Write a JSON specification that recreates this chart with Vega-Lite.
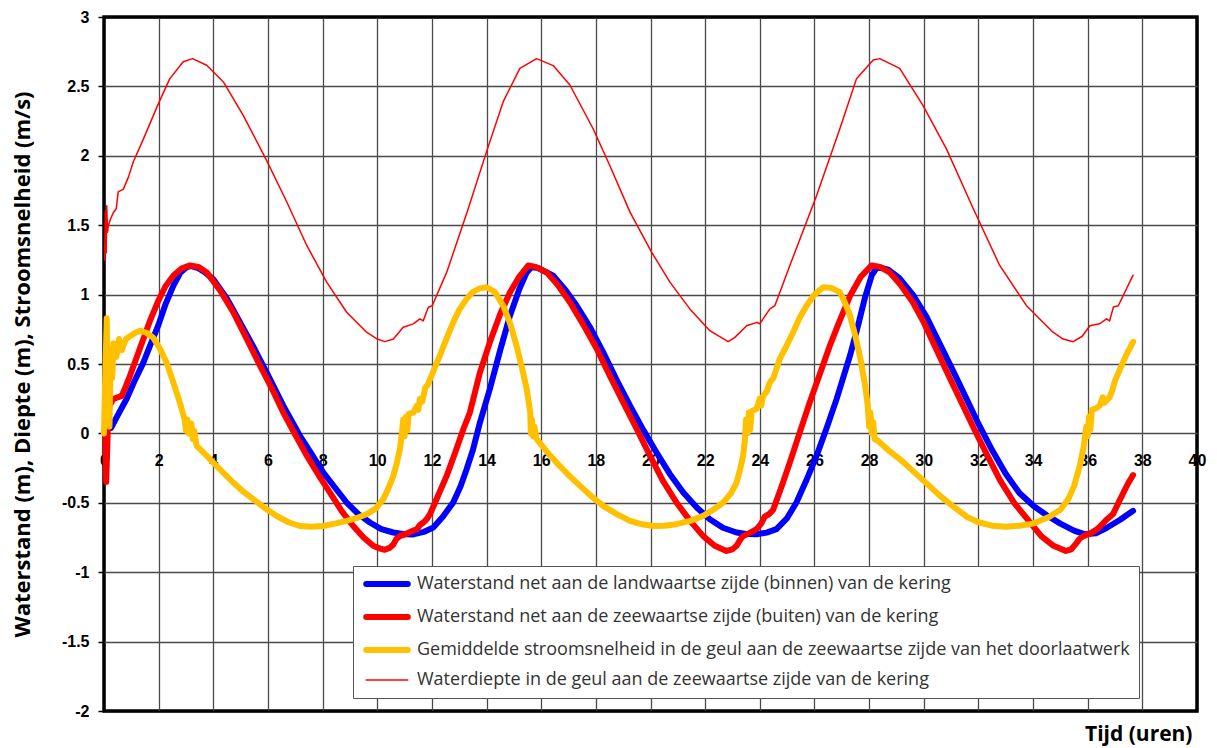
{
  "$schema": "https://vega.github.io/schema/vega-lite/v6.json",
  "width": 1093,
  "height": 694,
  "autosize": {"type": "none"},
  "padding": {"left": 104, "top": 17, "right": 20, "bottom": 37},
  "background": "white",
  "config": {
    "view": {"stroke": "black", "strokeWidth": 3.5}
  },
  "datasets": {
    "binnen": [
      {"t":0.26,"v":0.04},{"t":0.5,"v":0.13},{"t":0.83,"v":0.25},{"t":1.1,"v":0.37},{"t":1.44,"v":0.51},{"t":1.7,"v":0.64},{"t":1.99,"v":0.78},{"t":2.25,"v":0.93},{"t":2.54,"v":1.065},{"t":2.8,"v":1.16},{"t":3.03,"v":1.198},{"t":3.2,"v":1.205},{"t":3.45,"v":1.19},{"t":3.7,"v":1.16},{"t":4.0,"v":1.11},{"t":4.5,"v":0.97},{"t":4.98,"v":0.8},{"t":5.45,"v":0.63},{"t":5.95,"v":0.44},{"t":6.56,"v":0.2},{"t":7.17,"v":-0.017},{"t":7.6,"v":-0.15},{"t":8.02,"v":-0.28},{"t":8.45,"v":-0.39},{"t":8.88,"v":-0.498},{"t":9.3,"v":-0.58},{"t":9.73,"v":-0.642},{"t":10.15,"v":-0.69},{"t":10.59,"v":-0.714},{"t":11.0,"v":-0.727},{"t":11.32,"v":-0.728},{"t":11.7,"v":-0.71},{"t":12.05,"v":-0.678},{"t":12.4,"v":-0.6},{"t":12.78,"v":-0.498},{"t":13.05,"v":-0.38},{"t":13.27,"v":-0.258},{"t":13.5,"v":-0.12},{"t":13.76,"v":0.08},{"t":14.12,"v":0.32},{"t":14.5,"v":0.6},{"t":14.86,"v":0.85},{"t":15.2,"v":1.04},{"t":15.47,"v":1.16},{"t":15.65,"v":1.2},{"t":15.9,"v":1.19},{"t":16.44,"v":1.137},{"t":16.9,"v":1.03},{"t":17.3,"v":0.92},{"t":17.8,"v":0.76},{"t":18.27,"v":0.584},{"t":18.75,"v":0.39},{"t":19.25,"v":0.2},{"t":19.75,"v":0.02},{"t":20.22,"v":-0.137},{"t":20.7,"v":-0.29},{"t":21.2,"v":-0.426},{"t":21.7,"v":-0.535},{"t":22.17,"v":-0.618},{"t":22.65,"v":-0.68},{"t":23.15,"v":-0.714},{"t":23.5,"v":-0.725},{"t":23.88,"v":-0.727},{"t":24.25,"v":-0.715},{"t":24.61,"v":-0.69},{"t":25.0,"v":-0.61},{"t":25.34,"v":-0.498},{"t":25.7,"v":-0.34},{"t":26.08,"v":-0.16},{"t":26.45,"v":0.04},{"t":26.81,"v":0.247},{"t":27.05,"v":0.4},{"t":27.3,"v":0.56},{"t":27.6,"v":0.78},{"t":27.85,"v":0.98},{"t":28.1,"v":1.14},{"t":28.3,"v":1.2},{"t":28.7,"v":1.18},{"t":29.1,"v":1.12},{"t":29.6,"v":1.0},{"t":30.1,"v":0.84},{"t":30.6,"v":0.64},{"t":31.1,"v":0.44},{"t":31.57,"v":0.247},{"t":32.0,"v":0.07},{"t":32.5,"v":-0.12},{"t":33.0,"v":-0.29},{"t":33.5,"v":-0.43},{"t":34.0,"v":-0.52},{"t":34.5,"v":-0.59},{"t":35.0,"v":-0.65},{"t":35.5,"v":-0.7},{"t":35.9,"v":-0.727},{"t":36.3,"v":-0.72},{"t":36.7,"v":-0.68},{"t":37.2,"v":-0.62},{"t":37.66,"v":-0.558}
    ],
    "buiten": [
      {"t":0.05,"v":0.0},{"t":0.08,"v":-0.35},{"t":0.12,"v":-0.1},{"t":0.15,"v":0.1},{"t":0.2,"v":0.2},{"t":0.34,"v":0.247},{"t":0.5,"v":0.26},{"t":0.65,"v":0.27},{"t":0.8,"v":0.34},{"t":0.95,"v":0.415},{"t":1.2,"v":0.55},{"t":1.44,"v":0.68},{"t":1.7,"v":0.82},{"t":1.99,"v":0.957},{"t":2.25,"v":1.06},{"t":2.54,"v":1.137},{"t":2.85,"v":1.19},{"t":3.15,"v":1.21},{"t":3.45,"v":1.2},{"t":3.76,"v":1.16},{"t":4.25,"v":1.03},{"t":4.73,"v":0.873},{"t":5.2,"v":0.69},{"t":5.71,"v":0.488},{"t":6.15,"v":0.32},{"t":6.56,"v":0.15},{"t":7.0,"v":-0.01},{"t":7.42,"v":-0.16},{"t":7.85,"v":-0.3},{"t":8.27,"v":-0.426},{"t":8.7,"v":-0.56},{"t":9.12,"v":-0.667},{"t":9.5,"v":-0.75},{"t":9.85,"v":-0.81},{"t":10.1,"v":-0.83},{"t":10.28,"v":-0.838},{"t":10.45,"v":-0.825},{"t":10.59,"v":-0.8},{"t":10.7,"v":-0.76},{"t":10.83,"v":-0.74},{"t":11.1,"v":-0.72},{"t":11.32,"v":-0.7},{"t":11.45,"v":-0.69},{"t":11.56,"v":-0.66},{"t":11.7,"v":-0.64},{"t":11.8,"v":-0.62},{"t":11.93,"v":-0.582},{"t":12.2,"v":-0.46},{"t":12.54,"v":-0.306},{"t":12.85,"v":-0.14},{"t":13.15,"v":0.03},{"t":13.39,"v":0.15},{"t":13.76,"v":0.44},{"t":14.12,"v":0.657},{"t":14.5,"v":0.86},{"t":14.86,"v":1.017},{"t":15.2,"v":1.13},{"t":15.53,"v":1.21},{"t":15.8,"v":1.2},{"t":16.2,"v":1.16},{"t":16.6,"v":1.07},{"t":17.05,"v":0.945},{"t":17.55,"v":0.78},{"t":18.03,"v":0.61},{"t":18.5,"v":0.42},{"t":19.0,"v":0.224},{"t":19.5,"v":0.03},{"t":19.98,"v":-0.16},{"t":20.45,"v":-0.34},{"t":20.95,"v":-0.498},{"t":21.45,"v":-0.63},{"t":21.93,"v":-0.74},{"t":22.35,"v":-0.81},{"t":22.78,"v":-0.847},{"t":23.0,"v":-0.835},{"t":23.15,"v":-0.81},{"t":23.3,"v":-0.76},{"t":23.39,"v":-0.74},{"t":23.6,"v":-0.72},{"t":23.88,"v":-0.69},{"t":24.05,"v":-0.65},{"t":24.18,"v":-0.6},{"t":24.35,"v":-0.58},{"t":24.49,"v":-0.55},{"t":24.8,"v":-0.38},{"t":25.1,"v":-0.21},{"t":25.45,"v":0.0},{"t":25.83,"v":0.224},{"t":26.2,"v":0.43},{"t":26.56,"v":0.63},{"t":26.9,"v":0.8},{"t":27.3,"v":0.99},{"t":27.7,"v":1.13},{"t":28.09,"v":1.21},{"t":28.4,"v":1.2},{"t":28.75,"v":1.16},{"t":29.15,"v":1.07},{"t":29.6,"v":0.945},{"t":30.0,"v":0.8},{"t":30.45,"v":0.61},{"t":30.9,"v":0.42},{"t":31.35,"v":0.235},{"t":31.85,"v":0.03},{"t":32.33,"v":-0.16},{"t":32.8,"v":-0.34},{"t":33.3,"v":-0.498},{"t":33.8,"v":-0.62},{"t":34.3,"v":-0.74},{"t":34.75,"v":-0.81},{"t":35.2,"v":-0.847},{"t":35.4,"v":-0.835},{"t":35.55,"v":-0.8},{"t":35.7,"v":-0.76},{"t":35.85,"v":-0.74},{"t":36.1,"v":-0.72},{"t":36.35,"v":-0.69},{"t":36.5,"v":-0.66},{"t":36.7,"v":-0.62},{"t":36.93,"v":-0.58},{"t":37.2,"v":-0.47},{"t":37.45,"v":-0.37},{"t":37.66,"v":-0.3}
    ],
    "snelheid": [
      {"t":0.0,"v":0.0},{"t":0.05,"v":0.45},{"t":0.1,"v":0.83},{"t":0.15,"v":0.3},{"t":0.2,"v":0.05},{"t":0.25,"v":0.6},{"t":0.3,"v":0.4},{"t":0.35,"v":0.65},{"t":0.45,"v":0.55},{"t":0.55,"v":0.68},{"t":0.65,"v":0.6},{"t":0.8,"v":0.68},{"t":0.95,"v":0.7},{"t":1.1,"v":0.72},{"t":1.32,"v":0.74},{"t":1.55,"v":0.725},{"t":1.8,"v":0.69},{"t":2.05,"v":0.61},{"t":2.29,"v":0.51},{"t":2.55,"v":0.36},{"t":2.78,"v":0.22},{"t":2.95,"v":0.1},{"t":3.0,"v":0.02},{"t":3.05,"v":0.1},{"t":3.1,"v":0.0},{"t":3.2,"v":0.07},{"t":3.25,"v":-0.04},{"t":3.3,"v":0.02},{"t":3.39,"v":-0.09},{"t":3.7,"v":-0.15},{"t":4.0,"v":-0.21},{"t":4.35,"v":-0.28},{"t":4.73,"v":-0.354},{"t":5.1,"v":-0.42},{"t":5.46,"v":-0.474},{"t":5.9,"v":-0.54},{"t":6.32,"v":-0.595},{"t":6.75,"v":-0.64},{"t":7.17,"v":-0.667},{"t":7.6,"v":-0.672},{"t":8.02,"v":-0.667},{"t":8.45,"v":-0.65},{"t":8.88,"v":-0.63},{"t":9.25,"v":-0.61},{"t":9.61,"v":-0.582},{"t":9.95,"v":-0.54},{"t":10.22,"v":-0.474},{"t":10.4,"v":-0.4},{"t":10.59,"v":-0.306},{"t":10.72,"v":-0.21},{"t":10.83,"v":-0.113},{"t":10.9,"v":0.0},{"t":10.95,"v":0.1},{"t":11.0,"v":-0.02},{"t":11.05,"v":0.12},{"t":11.1,"v":0.02},{"t":11.15,"v":0.14},{"t":11.32,"v":0.15},{"t":11.45,"v":0.2},{"t":11.5,"v":0.17},{"t":11.56,"v":0.25},{"t":11.65,"v":0.23},{"t":11.76,"v":0.33},{"t":11.85,"v":0.35},{"t":11.93,"v":0.39},{"t":12.1,"v":0.47},{"t":12.29,"v":0.56},{"t":12.55,"v":0.69},{"t":12.78,"v":0.8},{"t":13.0,"v":0.89},{"t":13.27,"v":0.969},{"t":13.5,"v":1.02},{"t":13.76,"v":1.045},{"t":14.0,"v":1.053},{"t":14.3,"v":1.02},{"t":14.61,"v":0.92},{"t":14.85,"v":0.8},{"t":15.1,"v":0.63},{"t":15.3,"v":0.47},{"t":15.47,"v":0.32},{"t":15.6,"v":0.15},{"t":15.62,"v":0.0},{"t":15.66,"v":0.1},{"t":15.7,"v":-0.02},{"t":15.75,"v":0.05},{"t":15.83,"v":-0.04},{"t":16.2,"v":-0.13},{"t":16.56,"v":-0.21},{"t":17.0,"v":-0.3},{"t":17.42,"v":-0.378},{"t":17.85,"v":-0.455},{"t":18.27,"v":-0.522},{"t":18.75,"v":-0.58},{"t":19.25,"v":-0.63},{"t":19.7,"v":-0.655},{"t":20.1,"v":-0.667},{"t":20.5,"v":-0.665},{"t":20.95,"v":-0.654},{"t":21.45,"v":-0.63},{"t":21.93,"v":-0.594},{"t":22.3,"v":-0.55},{"t":22.66,"v":-0.498},{"t":22.95,"v":-0.43},{"t":23.15,"v":-0.354},{"t":23.28,"v":-0.26},{"t":23.39,"v":-0.16},{"t":23.45,"v":-0.05},{"t":23.5,"v":0.1},{"t":23.55,"v":0.0},{"t":23.6,"v":0.15},{"t":23.65,"v":0.03},{"t":23.7,"v":0.16},{"t":23.88,"v":0.175},{"t":24.0,"v":0.25},{"t":24.05,"v":0.2},{"t":24.12,"v":0.27},{"t":24.25,"v":0.3},{"t":24.37,"v":0.368},{"t":24.5,"v":0.4},{"t":24.73,"v":0.536},{"t":25.0,"v":0.64},{"t":25.22,"v":0.729},{"t":25.45,"v":0.83},{"t":25.71,"v":0.92},{"t":26.0,"v":1.0},{"t":26.32,"v":1.053},{"t":26.6,"v":1.05},{"t":26.93,"v":1.017},{"t":27.1,"v":0.95},{"t":27.3,"v":0.85},{"t":27.5,"v":0.7},{"t":27.7,"v":0.52},{"t":27.85,"v":0.35},{"t":27.95,"v":0.2},{"t":28.0,"v":0.05},{"t":28.05,"v":0.15},{"t":28.1,"v":0.0},{"t":28.15,"v":0.08},{"t":28.2,"v":-0.04},{"t":28.3,"v":-0.05},{"t":28.7,"v":-0.12},{"t":29.12,"v":-0.185},{"t":29.6,"v":-0.27},{"t":30.1,"v":-0.36},{"t":30.6,"v":-0.45},{"t":31.1,"v":-0.53},{"t":31.57,"v":-0.6},{"t":32.0,"v":-0.64},{"t":32.5,"v":-0.665},{"t":33.0,"v":-0.672},{"t":33.5,"v":-0.665},{"t":34.0,"v":-0.65},{"t":34.25,"v":-0.63},{"t":34.6,"v":-0.6},{"t":35.0,"v":-0.55},{"t":35.3,"v":-0.47},{"t":35.5,"v":-0.38},{"t":35.71,"v":-0.234},{"t":35.85,"v":-0.1},{"t":35.95,"v":0.05},{"t":36.0,"v":-0.02},{"t":36.05,"v":0.12},{"t":36.1,"v":0.03},{"t":36.15,"v":0.17},{"t":36.3,"v":0.18},{"t":36.44,"v":0.2},{"t":36.55,"v":0.26},{"t":36.6,"v":0.22},{"t":36.8,"v":0.26},{"t":36.9,"v":0.31},{"t":37.0,"v":0.38},{"t":37.2,"v":0.47},{"t":37.4,"v":0.56},{"t":37.66,"v":0.66}
    ],
    "diepte": [
      {"t":0.02,"v":1.25},{"t":0.05,"v":1.6},{"t":0.08,"v":1.3},{"t":0.1,"v":1.64},{"t":0.13,"v":1.45},{"t":0.16,"v":1.5},{"t":0.25,"v":1.55},{"t":0.34,"v":1.59},{"t":0.45,"v":1.62},{"t":0.52,"v":1.74},{"t":0.71,"v":1.76},{"t":0.9,"v":1.85},{"t":1.07,"v":1.955},{"t":1.44,"v":2.12},{"t":1.99,"v":2.376},{"t":2.41,"v":2.556},{"t":2.9,"v":2.677},{"t":3.24,"v":2.7},{"t":3.76,"v":2.652},{"t":4.37,"v":2.532},{"t":5.1,"v":2.29},{"t":5.95,"v":1.967},{"t":6.69,"v":1.667},{"t":7.42,"v":1.354},{"t":8.15,"v":1.09},{"t":8.88,"v":0.873},{"t":9.61,"v":0.729},{"t":10.0,"v":0.68},{"t":10.28,"v":0.661},{"t":10.59,"v":0.68},{"t":10.95,"v":0.765},{"t":11.32,"v":0.789},{"t":11.56,"v":0.825},{"t":11.68,"v":0.81},{"t":11.87,"v":0.909},{"t":12.01,"v":0.92},{"t":12.54,"v":1.16},{"t":13.3,"v":1.6},{"t":14.0,"v":2.03},{"t":14.61,"v":2.39},{"t":15.22,"v":2.63},{"t":15.83,"v":2.7},{"t":16.44,"v":2.65},{"t":17.05,"v":2.51},{"t":17.9,"v":2.195},{"t":18.51,"v":1.93},{"t":19.25,"v":1.594},{"t":20.04,"v":1.306},{"t":20.71,"v":1.09},{"t":21.44,"v":0.897},{"t":22.17,"v":0.74},{"t":22.84,"v":0.661},{"t":23.08,"v":0.69},{"t":23.52,"v":0.776},{"t":23.89,"v":0.8},{"t":24.0,"v":0.79},{"t":24.12,"v":0.825},{"t":24.37,"v":0.897},{"t":24.55,"v":0.92},{"t":25.1,"v":1.21},{"t":26.08,"v":1.714},{"t":26.93,"v":2.195},{"t":27.54,"v":2.556},{"t":28.15,"v":2.69},{"t":28.39,"v":2.7},{"t":29.12,"v":2.63},{"t":29.98,"v":2.36},{"t":30.83,"v":2.05},{"t":31.81,"v":1.62},{"t":32.78,"v":1.21},{"t":33.76,"v":0.92},{"t":34.73,"v":0.729},{"t":35.1,"v":0.68},{"t":35.47,"v":0.661},{"t":35.8,"v":0.7},{"t":36.08,"v":0.776},{"t":36.44,"v":0.79},{"t":36.69,"v":0.825},{"t":36.8,"v":0.81},{"t":36.94,"v":0.91},{"t":37.12,"v":0.92},{"t":37.66,"v":1.14}
    ]
  },
  "encoding": {
    "x": {
      "field": "t", "type": "quantitative",
      "scale": {"domain": [0, 40], "nice": false, "zero": false},
      "axis": {
        "orient": "bottom", "offset": -277.6,
        "values": [0,2,4,6,8,10,12,14,16,18,20,22,24,26,28,30,32,34,36,38,40],
        "domain": false, "ticks": false,
        "grid": true,
        "gridColor": {"condition": {"test": "datum.value == 0 || datum.value == 40", "value": "black"}, "value": "#4a4a4a"},
        "gridWidth": 1.3,
        "labelFont": "Liberation Sans", "labelFontWeight": "bold", "labelFontSize": 16, "labelColor": "black",
        "labelPadding": 19, "labelFlush": false, "labelOverlap": false,
        "labelExpr": "'' + datum.value",
        "title": "Tijd (uren)",
        "titleFont": "Open Sans", "titleFontSize": 21, "titleFontWeight": "bold", "titleColor": "black",
        "titleAlign": "right", "titleBaseline": "alphabetic",
        "titleX": 1088, "titleY": 307
      }
    },
    "y": {
      "field": "v", "type": "quantitative",
      "scale": {"domain": [-2, 3], "nice": false, "zero": false},
      "axis": {
        "values": [-2,-1.5,-1,-0.5,0,0.5,1,1.5,2,2.5,3],
        "domain": false, "ticks": true, "tickSize": 6, "tickColor": "black", "tickWidth": 1.5,
        "grid": true,
        "gridColor": {"condition": {"test": "datum.value == 3 || datum.value == -2", "value": "black"}, "value": "#4a4a4a"},
        "gridWidth": 1.3,
        "labelFont": "Liberation Sans", "labelFontWeight": "bold", "labelFontSize": 16, "labelColor": "black",
        "labelPadding": 9, "labelExpr": "'' + datum.value",
        "title": "Waterstand (m), Diepte (m), Stroomsnelheid (m/s)",
        "titleFont": "Open Sans", "titleFontSize": 22, "titleFontWeight": "bold", "titleColor": "black",
        "titleAngle": 270, "titleAlign": "center", "titleBaseline": "middle",
        "titleX": -82, "titleY": 347
      }
    }
  },
  "layer": [
    {
      "data": {"name": "binnen"},
      "mark": {"type": "line", "strokeCap": "round", "strokeJoin": "round", "strokeWidth": 6},
      "encoding": {
        "color": {
          "datum": "Waterstand net aan de landwaartse zijde (binnen) van de kering", "type": "nominal",
          "scale": {
            "domain": ["Waterstand net aan de landwaartse zijde (binnen) van de kering", "Waterstand net aan de zeewaartse zijde (buiten) van de kering", "Gemiddelde stroomsnelheid in de geul aan de zeewaartse zijde van het doorlaatwerk", "Waterdiepte in de geul aan de zeewaartse zijde van de kering"],
            "range": ["#0000FF", "#FF0000", "#FFC000", "#FF0000"]
          },
          "legend": {
            "orient": "none", "legendX": 249, "legendY": 549, "title": null, "direction": "vertical",
            "padding": 9, "strokeColor": "#555", "fillColor": "white",
            "labelFont": "Open Sans", "labelFontSize": 18, "labelColor": "#333", "labelLimit": 1000,
            "symbolSize": 256, "symbolType": "M-2.6,0H2.6", "symbolOffset": 16, "labelOffset": 21, "rowPadding": 9,
            "encode": {"symbols": {"update": {"strokeCap": {"value": "round"}, "strokeWidth": {"signal": "datum.index == 3 ? 1.5 : 6"}}}}
          }
        }
      }
    },
    {
      "data": {"name": "buiten"},
      "mark": {"type": "line", "strokeCap": "round", "strokeJoin": "round", "strokeWidth": 6},
      "encoding": {
        "color": {"datum": "Waterstand net aan de zeewaartse zijde (buiten) van de kering", "type": "nominal"}
      }
    },
    {
      "data": {"name": "snelheid"},
      "mark": {"type": "line", "strokeCap": "round", "strokeJoin": "round", "strokeWidth": 6},
      "encoding": {
        "color": {"datum": "Gemiddelde stroomsnelheid in de geul aan de zeewaartse zijde van het doorlaatwerk", "type": "nominal"}
      }
    },
    {
      "data": {"name": "diepte"},
      "mark": {"type": "line", "strokeCap": "round", "strokeJoin": "round", "strokeWidth": 1.5},
      "encoding": {
        "color": {"datum": "Waterdiepte in de geul aan de zeewaartse zijde van de kering", "type": "nominal"}
      }
    }
  ]
}
